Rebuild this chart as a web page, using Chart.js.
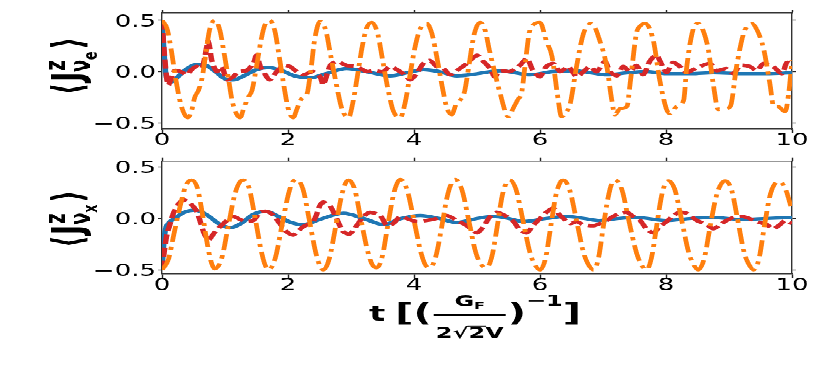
<!DOCTYPE html>
<html>
<head>
<meta charset="utf-8">
<script src="https://cdn.jsdelivr.net/npm/chart.js@4.4.0/dist/chart.umd.min.js"></script>
<style>
  html, body { margin: 0; padding: 0; background: #fff; overflow: hidden; }
  /* the reference picture is squeezed vertically, so the whole drawing is too */
  #stage { position: absolute; left: 0; top: 0; width: 830px; height: 603px;
           transform: scaleY(0.62); transform-origin: 0 0; }
  .panel { position: absolute; left: 0; width: 830px; }
</style>
</head>
<body>
<div id="stage">
  <div class="panel" style="top:0; height:260px"><canvas id="top"></canvas></div>
  <div class="panel" style="top:240px; height:363px"><canvas id="bottom"></canvas></div>
</div>
<script>
// ---- data: [t, <J^z>] ----
const xTicks = [0, 2, 4, 6, 8, 10];
const yTicks = [-0.5, 0, 0.5];

const orangeTop = [[0,0.5],[0.08,0.42],[0.15,0.2],[0.22,-0.08],[0.3,-0.32],[0.41,-0.45],[0.47,-0.38],[0.52,-0.25],[0.58,-0.18],[0.64,-0.05],[0.7,0.2],[0.76,0.42],[0.84,0.5],
  [0.92,0.4],[0.98,0.2],[1.05,-0.05],[1.12,-0.3],[1.24,-0.45],
  [1.3,-0.35],[1.37,-0.25],[1.43,-0.18],[1.5,0.05],[1.57,0.3],[1.63,0.45],[1.71,0.5],
  [1.79,0.4],[1.86,0.15],[1.93,-0.12],[2.0,-0.35],[2.08,-0.45],
  [2.15,-0.35],[2.22,-0.26],[2.3,-0.22],[2.36,0.0],[2.42,0.3],[2.51,0.49],
  [2.6,0.4],[2.68,0.15],[2.76,-0.1],[2.85,-0.35],[2.96,-0.45],
  [3.03,-0.3],[3.1,-0.05],[3.18,0.25],[3.25,0.43],[3.33,0.48],
  [3.42,0.38],[3.5,0.12],[3.58,-0.15],[3.67,-0.38],[3.78,-0.45],
  [3.86,-0.3],[3.94,-0.02],[4.02,0.25],[4.1,0.42],[4.2,0.47],
  [4.28,0.38],[4.36,0.15],[4.44,-0.12],[4.52,-0.35],[4.6,-0.42],
  [4.66,-0.33],[4.73,-0.28],[4.8,-0.2],[4.87,0.05],[4.95,0.35],[5.05,0.48],
  [5.13,0.4],[5.2,0.2],[5.26,0.05],[5.37,-0.22],[5.5,-0.44],
  [5.58,-0.35],[5.65,-0.27],[5.71,-0.2],[5.77,0.1],[5.83,0.38],[5.9,0.46],[6.0,0.48],
  [6.1,0.3],[6.19,0.15],[6.29,-0.28],[6.34,-0.44],
  [6.41,-0.4],[6.48,-0.31],[6.58,0.05],[6.69,0.37],[6.82,0.47],
  [6.95,0.3],[7.06,0.05],[7.14,-0.28],[7.19,-0.42],
  [7.27,-0.36],[7.38,-0.34],[7.43,-0.12],[7.53,0.37],[7.6,0.45],[7.67,0.47],
  [7.8,0.3],[7.9,-0.08],[8.01,-0.37],[8.06,-0.41],
  [8.17,-0.34],[8.28,-0.28],[8.33,0.05],[8.43,0.41],[8.51,0.47],
  [8.59,0.4],[8.67,0.22],[8.75,-0.12],[8.83,-0.37],[8.94,-0.36],[9.02,-0.34],
  [9.12,0.05],[9.23,0.37],[9.3,0.45],[9.36,0.47],
  [9.45,0.4],[9.55,0.22],[9.65,-0.12],[9.71,-0.34],[9.78,-0.34],[9.89,-0.39],
  [9.95,-0.2],[10,0.11]];

const redTop = [[0,0.5],[0.04,0.15],[0.1,-0.13],[0.2,0.01],[0.3,0.0],[0.39,-0.03],[0.47,0.02],[0.55,0.05],[0.63,0.03],[0.68,0.14],[0.735,0.3],[0.79,0.11],[0.87,0.0],[0.95,0.05],
  [1.03,-0.08],[1.13,-0.05],[1.21,0.0],[1.34,0.01],[1.45,0.08],[1.5,0.16],[1.56,0.05],[1.61,0.0],[1.71,-0.08],[1.82,0.0],[1.93,0.06],[2.03,0.05],[2.14,0.0],[2.24,-0.03],
  [2.4,0.0],[2.51,-0.05],[2.56,-0.13],[2.67,0.06],[2.77,0.1],[2.93,0.06],[3.09,0.05],[3.25,0.0],[3.35,0.01],[3.51,0.0],[3.62,0.05],[3.83,-0.02],[3.94,-0.08],[4.04,-0.02],
  [4.15,0.08],[4.25,0.11],[4.36,0.05],[4.47,0.03],[4.57,-0.03],[4.68,0.01],[4.84,0.08],[5.0,0.16],[5.1,0.1],[5.21,0.03],[5.28,-0.05],[5.37,0.01],[5.52,0.0],[5.68,0.06],
  [5.79,0.13],[5.89,0.01],[6.0,-0.05],[6.1,0.05],[6.21,0.08],[6.32,0.0],[6.45,0.05],[6.58,-0.05],[6.69,0.0],[6.79,0.05],[6.9,0.0],[7.03,0.1],[7.11,0.0],[7.22,-0.04],
  [7.32,0.05],[7.43,0.0],[7.53,0.06],[7.64,-0.03],[7.75,0.11],[7.85,0.16],[7.93,0.07],[8.01,-0.01],[8.11,0.09],[8.22,0.05],[8.33,-0.01],[8.43,0.02],[8.54,0.05],[8.7,0.08],
  [8.8,0.01],[8.96,0.03],[9.07,-0.02],[9.18,0.06],[9.33,0.05],[9.44,0.01],[9.55,0.08],[9.7,0.05],[9.84,-0.02],[9.92,0.09],[10,0.08]];

const blueTop = [[0,0.5],[0.03,0.2],[0.06,-0.02],[0.1,-0.09],[0.15,-0.1],[0.25,-0.05],[0.4,0.03],[0.55,0.07],[0.7,0.06],[0.85,0.0],[1.0,-0.07],[1.13,-0.08],[1.3,-0.04],
  [1.5,0.02],[1.69,0.04],[1.9,0.01],[2.1,-0.04],[2.35,-0.06],[2.6,-0.02],[2.93,0.03],[3.25,0.0],[3.62,-0.04],[3.9,-0.01],[4.15,0.02],[4.4,0.0],[4.68,-0.04],[5.0,-0.02],
  [5.37,0.01],[5.6,-0.01],[5.84,-0.03],[6.2,0.0],[6.53,0.01],[6.8,-0.01],[7.06,-0.03],[7.4,-0.01],[7.7,0.0],[8.0,-0.02],[8.4,-0.02],[8.75,-0.01],[9.2,-0.02],[9.6,-0.02],[10,-0.01]];

const orangeBottom = [[0,-0.5],[0.1,-0.4],[0.2,-0.12],[0.3,0.15],[0.38,0.32],[0.47,0.375],
  [0.56,0.3],[0.64,0.05],[0.72,-0.25],[0.78,-0.42],[0.84,-0.49],
  [0.95,-0.38],[1.05,-0.08],[1.15,0.22],[1.22,0.34],[1.29,0.375],
  [1.38,0.3],[1.48,0.0],[1.57,-0.3],[1.63,-0.44],[1.69,-0.5],
  [1.8,-0.38],[1.9,-0.08],[2.0,0.22],[2.07,0.35],[2.14,0.38],
  [2.24,0.28],[2.34,-0.02],[2.44,-0.33],[2.5,-0.45],[2.56,-0.5],
  [2.66,-0.38],[2.75,-0.1],[2.85,0.22],[2.91,0.34],[2.96,0.375],
  [3.06,0.28],[3.16,-0.02],[3.27,-0.33],[3.34,-0.45],[3.41,-0.48],
  [3.5,-0.36],[3.58,-0.08],[3.67,0.22],[3.73,0.34],[3.78,0.38],
  [3.89,0.28],[4.0,-0.02],[4.11,-0.33],[4.18,-0.45],[4.25,-0.48],
  [4.35,-0.36],[4.44,-0.08],[4.53,0.22],[4.6,0.35],[4.65,0.38],
  [4.76,0.28],[4.87,-0.02],[4.98,-0.33],[5.07,-0.45],[5.15,-0.48],
  [5.24,-0.36],[5.32,-0.08],[5.4,0.22],[5.47,0.35],[5.52,0.375],
  [5.62,0.28],[5.73,-0.02],[5.84,-0.33],[5.92,-0.45],[6.0,-0.5],
  [6.09,-0.38],[6.17,-0.08],[6.25,0.22],[6.32,0.35],[6.37,0.375],
  [6.47,0.28],[6.58,-0.02],[6.69,-0.33],[6.77,-0.45],[6.85,-0.5],
  [6.93,-0.38],[7.0,-0.1],[7.08,0.2],[7.14,0.34],[7.19,0.375],
  [7.3,0.28],[7.41,-0.02],[7.53,-0.33],[7.61,-0.45],[7.69,-0.5],
  [7.77,-0.38],[7.85,-0.08],[7.93,0.22],[7.99,0.34],[8.04,0.365],
  [8.14,0.28],[8.25,-0.02],[8.36,-0.33],[8.44,-0.45],[8.51,-0.5],
  [8.61,-0.38],[8.7,-0.08],[8.8,0.22],[8.88,0.34],[8.94,0.365],
  [9.04,0.28],[9.14,-0.02],[9.24,-0.33],[9.32,-0.45],[9.39,-0.5],
  [9.48,-0.38],[9.56,-0.08],[9.65,0.22],[9.73,0.34],[9.8,0.36],
  [9.9,0.28],[10,0.08]];

const redBottom = [[0,-0.5],[0.04,-0.3],[0.08,-0.15],[0.13,-0.05],[0.18,0.05],[0.26,0.14],[0.34,0.18],[0.44,0.15],[0.55,0.07],[0.66,-0.13],[0.735,-0.21],[0.84,-0.13],
  [0.92,-0.08],[1.03,-0.02],[1.13,0.02],[1.24,-0.01],[1.34,-0.03],[1.45,-0.02],[1.56,0.06],[1.66,0.07],[1.77,0.03],[1.87,-0.05],[1.98,-0.13],[2.08,-0.16],[2.24,-0.08],
  [2.4,-0.03],[2.51,0.13],[2.56,0.16],[2.67,0.12],[2.77,0.0],[2.88,-0.13],[2.98,-0.15],[3.09,-0.07],[3.2,0.02],[3.3,0.06],[3.46,0.03],[3.57,-0.07],[3.67,-0.05],
  [3.78,0.02],[3.88,0.0],[4.04,-0.03],[4.2,-0.02],[4.36,0.0],[4.52,0.03],[4.68,-0.02],[4.84,-0.07],[5.0,-0.14],[5.1,-0.08],[5.21,0.02],[5.3,0.06],[5.37,0.05],
  [5.47,0.02],[5.58,-0.03],[5.68,-0.11],[5.79,-0.14],[5.89,-0.07],[6.0,0.0],[6.1,0.06],[6.21,0.1],[6.32,0.03],[6.48,-0.05],[6.58,-0.03],[6.69,-0.06],[6.85,-0.07],
  [6.95,-0.05],[7.06,-0.02],[7.16,0.02],[7.27,0.05],[7.38,0.06],[7.48,0.02],[7.59,-0.02],[7.69,-0.1],[7.8,-0.14],[7.9,-0.08],[8.01,-0.03],[8.12,0.03],[8.22,0.06],
  [8.33,0.05],[8.49,-0.02],[8.65,-0.06],[8.75,-0.1],[8.86,-0.06],[8.96,-0.02],[9.07,0.01],[9.18,0.02],[9.28,0.01],[9.44,-0.03],[9.6,-0.06],[9.7,-0.1],[9.81,-0.06],
  [9.89,-0.02],[10,-0.05]];

const blueBottom = [[0,-0.5],[0.02,-0.3],[0.05,-0.12],[0.1,-0.05],[0.2,0.0],[0.35,0.06],[0.52,0.08],[0.7,0.04],[0.9,-0.05],[1.08,-0.09],[1.25,-0.05],[1.45,0.04],
  [1.64,0.07],[1.85,0.02],[2.05,-0.04],[2.24,-0.06],[2.5,-0.01],[2.88,0.05],[3.2,0.0],[3.52,-0.06],[3.8,0.0],[4.1,0.03],[4.4,0.0],[4.68,-0.04],[5.0,0.0],[5.26,0.02],
  [5.5,0.0],[5.73,-0.03],[6.1,0.0],[6.42,0.02],[6.7,0.0],[6.95,-0.02],[7.25,0.0],[7.53,0.01],[8.0,-0.02],[8.4,0.0],[8.75,0.01],[9.2,-0.01],[9.6,0.0],[10,0.01]];

// ---- drawing ----
const tickFont = { family: '"DejaVu Sans"', size: 26, lineHeight: 1 };
const bold = s => 'bold ' + s + 'px "DejaVu Sans"';

function layoutRun(ctx, pieces) {
  let x = 0, mark = 0, far = 0;
  const items = [];
  for (const p of pieces) {
    ctx.font = bold(p.size);
    if (p.back) x = mark;
    if (p.far) x = far;
    if (p.mark) mark = x;
    x += p.gap || 0;
    items.push({ p, x });
    x += ctx.measureText(p.t).width;
    far = Math.max(far, x);
  }
  return { items, width: far };
}

function yTitle(sub) {
  return [
    { t: '\u27E8', size: 42 },
    { t: 'J', size: 42, gap: 2 },
    { t: 'z', size: 29, dy: -17, mark: true, gap: 2 },
    { t: '\u03BD', size: 29, dy: 8, back: true },
    { t: sub, size: 20, dy: 15 },
    { t: '\u27E9', size: 42, far: true, gap: 4 }
  ];
}

function drawYTitle(ctx, pieces, cx, cy) {
  ctx.save();
  ctx.translate(cx, cy);
  ctx.rotate(-Math.PI / 2);
  ctx.fillStyle = '#000';
  ctx.textBaseline = 'alphabetic';
  const run = layoutRun(ctx, pieces);
  for (const it of run.items) {
    ctx.font = bold(it.p.size);
    ctx.fillText(it.p.t, it.x - run.width / 2, 14 + (it.p.dy || 0));
  }
  ctx.restore();
}

function drawXTitle(ctx, cx, cy) {
  ctx.save();
  ctx.fillStyle = '#000';
  ctx.strokeStyle = '#000';
  ctx.textBaseline = 'alphabetic';
  const w = (t, s) => { ctx.font = bold(s); return ctx.measureText(t).width; };
  const big = 40, den = 24, num = 24;
  const fracW = Math.max(w('G', num) + w('F', 16), w('2\u221A2V', den)) + 4;
  const parts = [w('t', 34), 10, w('[', big), w('(', big), fracW + 4, w(')', big), w('\u22121', 24), w(']', big)];
  let x = cx - parts.reduce((a, b) => a + b, 0) / 2;
  const put = (t, s, dy) => { ctx.font = bold(s); ctx.fillText(t, x, cy + dy); x += ctx.measureText(t).width; };
  put('t', 34, 12);
  x += 10;
  put('[', big, 13);
  put('(', big, 13);
  // fraction
  const fx = x + 2;
  const numW = w('G', num) + w('F', 16);
  let nx = fx + (fracW - numW) / 2;
  ctx.font = bold(num); ctx.fillText('G', nx, cy - 11); nx += w('G', num);
  ctx.font = bold(16); ctx.fillText('F', nx, cy - 6);
  ctx.lineWidth = 2.6;
  ctx.beginPath(); ctx.moveTo(fx, cy + 3); ctx.lineTo(fx + fracW, cy + 3); ctx.stroke();
  const dW = w('2\u221A2V', den);
  const dx = fx + (fracW - dW) / 2;
  ctx.font = bold(den);
  ctx.fillText('2\u221A', dx, cy + 40);
  const rx = dx + w('2\u221A', den);
  ctx.fillText('2V', rx, cy + 40);
  ctx.lineWidth = 2;
  ctx.beginPath(); ctx.moveTo(rx - 1, cy + 40 - 0.8 * den); ctx.lineTo(rx + w('2', den) + 1, cy + 40 - 0.8 * den); ctx.stroke();
  x = fx + fracW + 2;
  put(')', big, 13);
  put('\u22121', 24, -12);
  put(']', big, 13);
  ctx.restore();
}

function panel(id, sets, range, box, title) {
  const setTicks = vals => s => { s.ticks = vals.map(v => ({ value: v })); };
  const frame = { color: '#333', width: 1.4 };
  const tickGrid = len => ({ drawOnChartArea: false, drawTicks: true, tickLength: len, tickColor: '#222', tickWidth: 1.4 });
  return new Chart(document.getElementById(id), {
    type: 'line',
    data: {
      datasets: sets.map(s => ({
        data: s.pts.map(p => ({ x: p[0], y: p[1] })),
        borderColor: s.color, borderWidth: s.width, borderDash: s.dash,
        cubicInterpolationMode: s.mono ? 'monotone' : 'default', tension: s.mono ? 0 : 0.25,
        pointRadius: 0, fill: false, borderCapStyle: 'butt', borderJoinStyle: 'round'
      }))
    },
    options: {
      responsive: true, maintainAspectRatio: false, animation: false, events: [],
      layout: { padding: { top: box.top, bottom: box.bottom, left: 0, right: 0 } },
      plugins: { legend: { display: false }, tooltip: { enabled: false } },
      scales: {
        x: { type: 'linear', position: 'bottom', min: 0, max: 10,
             afterBuildTicks: setTicks(xTicks), afterFit: s => { s.height = box.xh; },
             grid: tickGrid(6.5), border: frame,
             ticks: { font: tickFont, color: '#000', padding: 0, maxRotation: 0, autoSkip: false, callback: v => String(v) } },
        x2: { type: 'linear', position: 'top', min: 0, max: 10,
              afterBuildTicks: setTicks(xTicks), afterFit: s => { s.height = 0; },
              grid: tickGrid(5), border: frame, ticks: { display: false } },
        y: { type: 'linear', position: 'left', min: range[0], max: range[1],
             afterBuildTicks: setTicks(yTicks), afterFit: s => { s.width = 162; },
             grid: tickGrid(4), border: frame,
             ticks: { font: tickFont, color: '#000', padding: 2, autoSkip: false, labelOffset: 3,
                      callback: v => v === 0 ? '0.0' : v.toFixed(1).replace('-', '\u2212') } },
        y2: { type: 'linear', position: 'right', min: range[0], max: range[1],
              afterBuildTicks: setTicks(yTicks), afterFit: s => { s.width = 38; },
              grid: tickGrid(4), border: frame, ticks: { display: false } }
      }
    },
    plugins: [{ id: 'titles', afterDraw: title }]
  });
}

const series = (o, r, b) => [
  { pts: o, color: '#ff7f0e', width: 4.8, dash: [26, 8, 5, 8], mono: true },
  { pts: r, color: '#d62728', width: 5.5, dash: [15, 6], mono: false },
  { pts: b, color: '#1f77b4', width: 5.5, dash: [], mono: true }
];

panel('top', series(orangeTop, redTop, blueTop), [-0.559, 0.571],
  { top: 21, bottom: 0, xh: 51.9 },
  chart => drawYTitle(chart.ctx, yTitle('e'), 68, 106.5));

panel('bottom', series(orangeBottom, redBottom, blueBottom), [-0.539, 0.558],
  { top: 19.7, bottom: 109.2, xh: 51.9 },
  chart => {
    drawYTitle(chart.ctx, yTitle('x'), 68, 113.2);
    drawXTitle(chart.ctx, 475, 265);
  });
</script>
</body>
</html>
